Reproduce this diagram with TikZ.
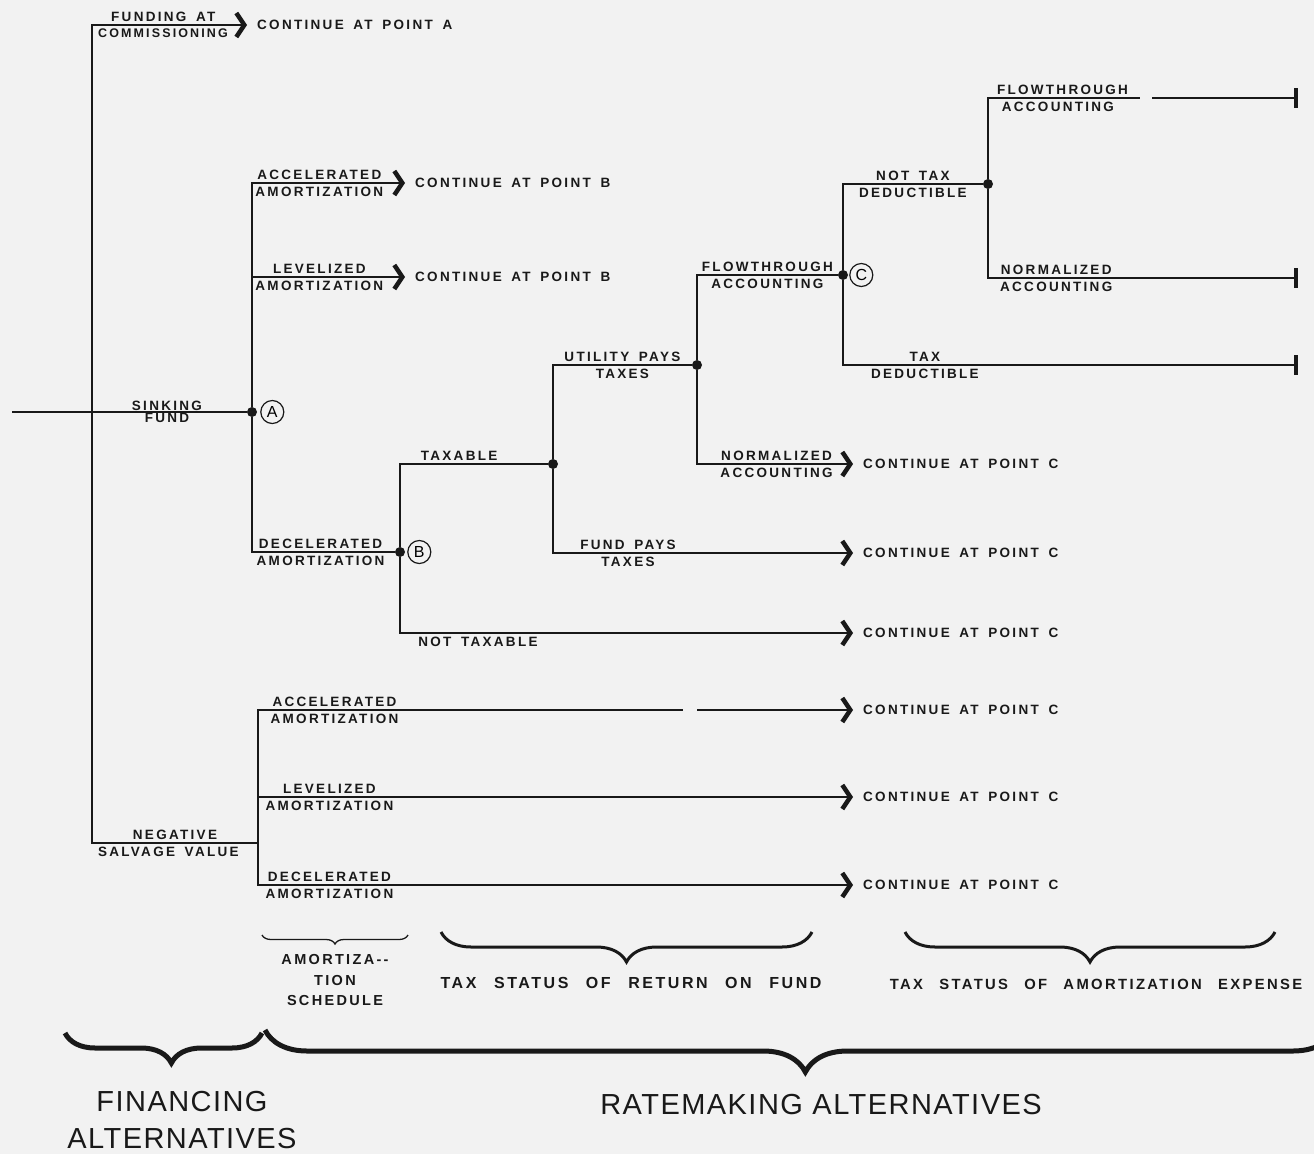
\documentclass[tikz,border=0pt]{standalone}
\usepackage{fontspec}
\setmainfont{Liberation Sans}
\newfontfamily\lblfont[LetterSpace=17, WordSpace=1.6]{Liberation Sans}
\newfontfamily\subfont[LetterSpace=16, WordSpace=2.5]{Liberation Sans}
\newfontfamily\headfont[LetterSpace=5]{Liberation Sans}
\usetikzlibrary{positioning,arrows.meta,decorations.pathreplacing}
\definecolor{paper}{gray}{0.95}
\definecolor{ink}{gray}{0.1}
\tikzset{
      wire/.style = {line width=1.4pt, draw=ink},
      goon/.style = {wire, -{Straight Barb[length=8pt, width=24pt, line width=4.5pt]}},  % <--- "continue at" tip
    endbar/.style = {wire, -{Bar[width=20pt, line width=4pt]}},
       dot/.style = {circle, fill=ink, inner sep=0pt, minimum size=10pt},
    ptcirc/.style = {circle, draw=ink, line width=1.2pt, inner sep=0pt,
                     minimum size=23pt, font=\fontsize{16}{16}\selectfont},
       lbl/.style = {font=\lblfont\bfseries\fontsize{13.5}{13.5}\selectfont,
                     text=ink, inner sep=3pt},
      cont/.style = {lbl, anchor=west, inner xsep=10pt},
    sublbl/.style = {font=\subfont\bfseries\fontsize{16}{20}\selectfont,
                     text=ink, align=center},
    bigtxt/.style = {font=\headfont\fontsize{29}{37}\selectfont, text=ink, align=center},
     curly/.style = {draw=ink, decorate, decoration={brace, mirror, amplitude=#1}},
}
\begin{document}
\begin{tikzpicture}[x=1pt, y=-1pt]
  \fill[paper] (0,0) rectangle (1314,1154);
  \useasboundingbox (0,0) rectangle (1314,1154);

  % financing alternatives
  \coordinate (in) at (12,412);
  \coordinate (fin) at (92,412);
  \coordinate (nsv) at (258,843);
  \node[dot] (ptA) at (252,412) {};
  \node[ptcirc, right=3pt of ptA] (cA) {A};
  \node[cont] (contA) at (247,25) {CONTINUE AT POINT A};
  \draw[goon] (fin) |- (contA)
     node[lbl, pos=.73, above] (fa1) {FUNDING AT}
     node[lbl, pos=.729, below, font=\lblfont\bfseries\fontsize{12.5}{12.5}\selectfont] (fa2) {COMMISSIONING};
  \draw[wire] (in) -- (ptA)
     node[lbl, pos=.66, above, inner sep=0.5pt] (sf1) {SINKING}
     node[lbl, pos=.66, below, inner sep=0.5pt] (sf2) {FUND};
  \draw[wire] (fin) |- (nsv)
     node[lbl, pos=.75, above] (ns1) {NEGATIVE}
     node[lbl, pos=.73, below] (ns2) {SALVAGE VALUE};

  % sinking fund: amortization schedule
  \node[cont] (contB1) at (405,183) {CONTINUE AT POINT B};
  \node[cont] (contB2) at (405,277) {CONTINUE AT POINT B};
  \node[dot] (ptB) at (400,552) {};
  \node[ptcirc, right=2pt of ptB] (cB) {B};
  \draw[goon] (ptA) |- (contB1)
     node[lbl, pos=.72, above] (aa1) {ACCELERATED}
     node[lbl, pos=.72, below] (aa2) {AMORTIZATION};
  \draw[goon] (ptA) |- (contB2)
     node[lbl, pos=.72, above] (la1) {LEVELIZED}
     node[lbl, pos=.72, below] (la2) {AMORTIZATION};
  \draw[wire] (ptA) |- (ptB)
     node[lbl, pos=.74, above] (da1) {DECELERATED}
     node[lbl, pos=.74, below] (da2) {AMORTIZATION};

  % tax status of return on fund
  \node[dot] (tax) at (553,464) {};
  \node[dot] (util) at (697,365) {};
  \node[cont] (contC1) at (853,464) {CONTINUE AT POINT C};
  \node[cont] (contC2) at (853,553) {CONTINUE AT POINT C};
  \node[cont] (contC3) at (853,633) {CONTINUE AT POINT C};
  \draw[wire] (ptB) |- (tax)
     node[lbl, pos=.70, above] (tx1) {TAXABLE};
  \draw[goon] (ptB) |- (contC3)
     node[lbl, pos=.586, below] (tx2) {NOT TAXABLE};
  \draw[wire] (tax) |- (util)
     node[lbl, pos=.75, above] (up1) {UTILITY PAYS}
     node[lbl, pos=.75, below] (up2) {TAXES};
  \draw[goon] (tax) |- (contC2)
     node[lbl, pos=.625, above] (fp1) {FUND PAYS}
     node[lbl, pos=.625, below] (fp2) {TAXES};

  % tax status of amortization expense
  \node[dot] (ptC) at (843,275) {};
  \node[ptcirc, right=1pt of ptC] (cC) {C};
  \node[dot] (ntd) at (988,184) {};
  \coordinate (g1a) at (1140,98);
  \coordinate (g1b) at (1152,98);
  \coordinate (e1) at (1298,98);
  \coordinate (e2) at (1298,278);
  \coordinate (e3) at (1298,365);
  \draw[wire] (util) |- (ptC)
     node[lbl, pos=.75, above] (fl1) {FLOWTHROUGH}
     node[lbl, pos=.75, below] (fl2) {ACCOUNTING};
  \draw[goon] (util) |- (contC1)
     node[lbl, pos=.755, above] (nm1) {NORMALIZED}
     node[lbl, pos=.755, below] (nm2) {ACCOUNTING};
  \draw[wire] (ptC) |- (ntd)
     node[lbl, pos=.75, above] (nd1) {NOT TAX}
     node[lbl, pos=.75, below] (nd2) {DEDUCTIBLE};
  \draw[endbar] (ptC) |- (e3)
     node[lbl, pos=.59, above] (td1) {TAX}
     node[lbl, pos=.59, below] (td2) {DEDUCTIBLE};
  \draw[wire] (ntd) |- (g1a)
     node[lbl, pos=.745, above] (ef1) {FLOWTHROUGH}
     node[lbl, pos=.73, below] (ef2) {ACCOUNTING};
  \draw[endbar] (g1b) -- (e1);
  \draw[endbar] (ntd) |- (e2)
     node[lbl, pos=.61, above] (en1) {NORMALIZED}
     node[lbl, pos=.61, below] (en2) {ACCOUNTING};

  % negative salvage value: amortization schedule
  \node[cont] (contC4) at (853,710) {CONTINUE AT POINT C};
  \node[cont] (contC5) at (853,797) {CONTINUE AT POINT C};
  \node[cont] (contC6) at (853,885) {CONTINUE AT POINT C};
  \coordinate (g4a) at (683,710);
  \coordinate (g4b) at (697,710);
  \draw[wire] (nsv) |- (g4a)
     node[lbl, pos=.59, above] (na1) {ACCELERATED}
     node[lbl, pos=.59, below] (na2) {AMORTIZATION};
  \draw[goon] (g4b) -- (contC4);
  \draw[goon] (nsv) |- (contC5)
     node[lbl, pos=.56, above] (nl1) {LEVELIZED}
     node[lbl, pos=.56, below] (nl2) {AMORTIZATION};
  \draw[goon] (nsv) |- (contC6)
     node[lbl, pos=.56, above] (nd3) {DECELERATED}
     node[lbl, pos=.56, below] (nd4) {AMORTIZATION};

  % braces and headings
  \coordinate (b1l) at (262,935);  \coordinate (b1r) at (408,935);
  \coordinate (b2l) at (441,932);  \coordinate (b2r) at (812,932);
  \coordinate (b3l) at (905,932);  \coordinate (b3r) at (1275,932);
  \coordinate (b4l) at (65,1033);  \coordinate (b4r) at (262,1033);
  \coordinate (b5l) at (265,1030); \coordinate (b5r) at (1335,1030);
  \draw[curly=9pt, line width=1.3pt] (b1l) -- (b1r);
  \draw[curly=30pt, line width=3pt] (b2l) -- (b2r);
  \draw[curly=30pt, line width=3pt] (b3l) -- (b3r);
  \draw[curly=30pt, line width=5pt, decoration={aspect=.54}] (b4l) -- (b4r);
  \draw[curly=42pt, line width=5pt, decoration={aspect=.505}] (b5l) -- (b5r);
  \node[sublbl, font=\subfont\bfseries\fontsize{14.5}{20.5}\selectfont] (sched) at (335,980) {AMORTIZA-{}-\\TION\\SCHEDULE};
  \node[sublbl] (retfund) at (631,983) {TAX STATUS OF RETURN ON FUND};
  \node[sublbl, font=\subfont\bfseries\fontsize{14.8}{20}\selectfont] (amexp) at (1096,984) {TAX STATUS OF AMORTIZATION EXPENSE};
  \node[bigtxt] (finalt) at (182,1120) {FINANCING\\ALTERNATIVES};
  \node[bigtxt] (ratealt) at (821,1105) {RATEMAKING ALTERNATIVES};
\end{tikzpicture}
\end{document}
